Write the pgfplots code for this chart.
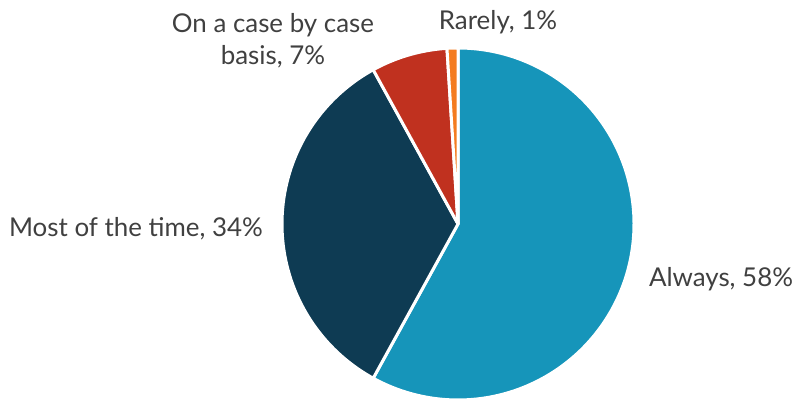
\documentclass[border=0pt]{standalone}
\usepackage{pgfplots}
\pgfplotsset{compat=1.18}
\usepackage{fontspec}
\setmainfont{Lato}
\definecolor{cAlways}{HTML}{1695BA}
\definecolor{cMost}{HTML}{0E3B53}
\definecolor{cCase}{HTML}{C0311F}
\definecolor{cRare}{HTML}{F47C20}
\definecolor{txt}{HTML}{404040}
\begin{document}
% Shares: Always 58, Most of the time 34, On a case by case basis 7, Rarely 1 (percent)
% Angles start at 90 deg and go clockwise: 1% = 3.6 deg
\begin{tikzpicture}
\begin{axis}[
  width=794bp, height=400bp, scale only axis,
  xmin=0, xmax=794, ymin=0, ymax=400,
  hide axis, clip=false,
]
\path (axis cs:0,0) rectangle (axis cs:794,400);
% Always 58% : 90 -> -118.8
\addplot[fill=cAlways, draw=white, line width=3pt, line join=round, domain=-118.8:90, samples=150]
  ({458+176*cos(x)}, {176+176*sin(x)}) -- (axis cs:458,176) -- cycle;
% Most of the time 34% : -118.8 -> -241.2
\addplot[fill=cMost, draw=white, line width=3pt, line join=round, domain=-241.2:-118.8, samples=100]
  ({458+176*cos(x)}, {176+176*sin(x)}) -- (axis cs:458,176) -- cycle;
% On a case by case basis 7% : -241.2 -> -266.4
\addplot[fill=cCase, draw=white, line width=3pt, line join=round, domain=-266.4:-241.2, samples=30]
  ({458+176*cos(x)}, {176+176*sin(x)}) -- (axis cs:458,176) -- cycle;
% Rarely 1% : -266.4 -> -270
\addplot[fill=cRare, draw=white, line width=3pt, line join=round, domain=-270:-266.4, samples=8]
  ({458+176*cos(x)}, {176+176*sin(x)}) -- (axis cs:458,176) -- cycle;
\begin{scope}[every node/.style={text=txt, font=\fontsize{26}{32}\selectfont, inner sep=0pt, anchor=base}]
\node at (axis cs:721,113) {Always, 58\%};
\node at (axis cs:136,163) {Most of the time, 34\%};
\node at (axis cs:273,367) {On a case by case};
\node at (axis cs:273,335) {basis, 7\%};
\node at (axis cs:498,370) {Rarely, 1\%};
\end{scope}
\end{axis}
\end{tikzpicture}
\end{document}
